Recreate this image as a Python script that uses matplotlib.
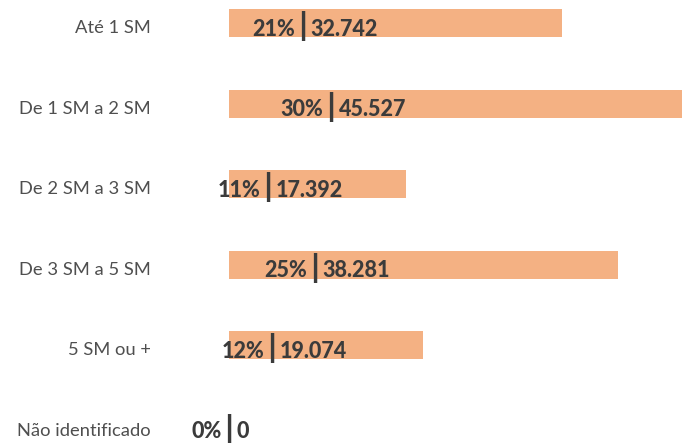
import matplotlib
matplotlib.use("Agg")
import matplotlib.pyplot as plt

categories = ["Até 1 SM", "De 1 SM a 2 SM", "De 2 SM a 3 SM",
              "De 3 SM a 5 SM", "5 SM ou +", "Não identificado"]
counts = [32742, 45527, 17392, 38281, 19074, 0]
percents = [21, 30, 11, 25, 12, 0]

bar_color = "#F4B183"
text_color = "#3b3b3b"
label_color = "#4f4f4f"

W, H = 682, 443
fig = plt.figure(figsize=(W / 100, H / 100), dpi=100)
left = 229 / W
ax = fig.add_axes([left, 0, 1 - left, 1])

ypos = list(range(len(categories)))
ax.barh(ypos, counts, height=0.348, color=bar_color)
ax.set_xlim(0, 44550)
ax.set_ylim(5.217, -0.286)
ax.axis("off")

def fmt(n):
    return f"{n:,}".replace(",", ".")

for y, cat, n, p in zip(ypos, categories, counts, percents):
    ax.text(-0.172, y + 0.13, cat, transform=ax.get_yaxis_transform(),
            ha="right", va="baseline", fontsize=13.2, family="Lato",
            fontweight="normal", color=label_color)
    sep = n * 0.22
    ax.text(sep, y + 0.04, "|", ha="center", va="center", fontsize=22,
            family="DejaVu Sans", fontweight="bold", color=text_color)
    ax.annotate(f"{p}%", (sep, y + 0.16), xytext=(-5.5, 0), textcoords="offset points",
                ha="right", va="baseline", fontsize=15.5, family="Lato",
                fontweight="black", color=text_color)
    ax.annotate(fmt(n), (sep, y + 0.16), xytext=(5.5, 0), textcoords="offset points",
                ha="left", va="baseline", fontsize=15.5, family="Lato",
                fontweight="black", color=text_color)

fig.savefig("out.png", dpi=100)
